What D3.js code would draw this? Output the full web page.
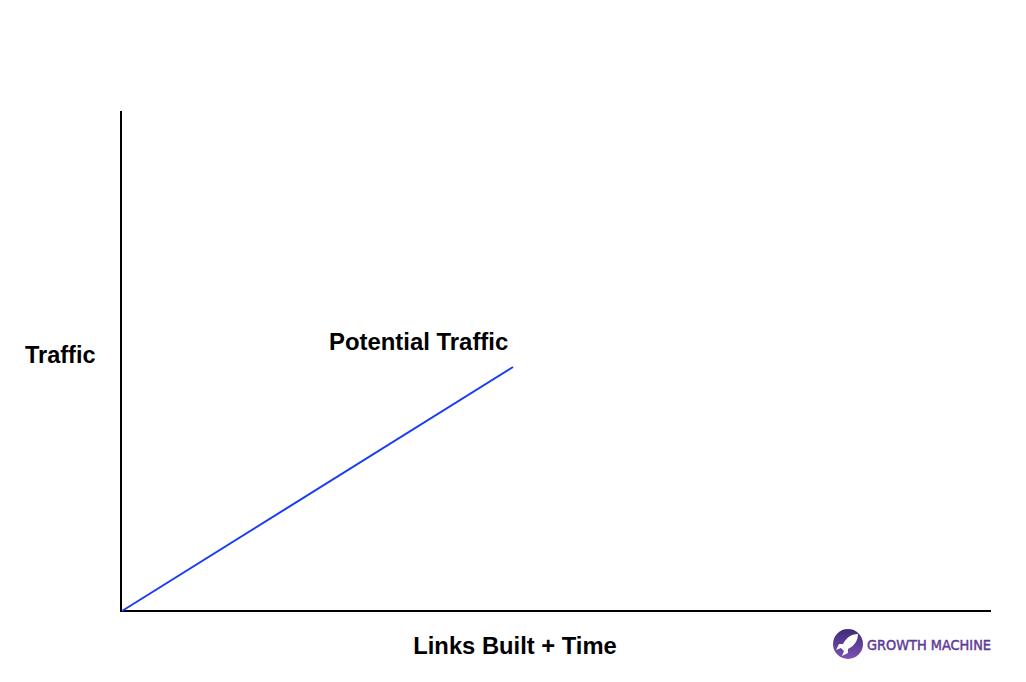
<!DOCTYPE html>
<html><head><meta charset="utf-8">
<script src="https://cdn.jsdelivr.net/npm/d3@7/dist/d3.min.js"></script>
<style>html,body{margin:0;padding:0;background:#fff}svg{display:block}</style>
</head><body><svg id="c" width="1026" height="682"></svg>
<script>
const seriesName = "Potential Traffic";
const xLabel = "Links Built + Time";
const yLabel = "Traffic";
const brand = "GROWTH MACHINE";
// relative units: axis runs 0..100 on each side
const xValues = [0, 45];
const yValues = [0, 48.8];

const svg = d3.select("#c");
const defs = svg.append("defs");
const grad = defs.append("linearGradient").attr("id","g").attr("x1",0).attr("y1",0).attr("x2",0).attr("y2",1);
grad.append("stop").attr("offset","0").attr("stop-color","#3f2a78");
grad.append("stop").attr("offset","1").attr("stop-color","#7d52b4");

const x = d3.scaleLinear().domain([0,100]).range([122,991]);
const y = d3.scaleLinear().domain([0,100]).range([611,111]);

const ax = svg.append("g");
ax.append("line").attr("x1",x(0)-2).attr("x2",x(100)).attr("y1",y(0)).attr("y2",y(0)).attr("stroke","#000").attr("stroke-width",2);
ax.append("line").attr("x1",x(0)-1).attr("x2",x(0)-1).attr("y1",y(100)).attr("y2",y(0)+1).attr("stroke","#000").attr("stroke-width",2);

const line = d3.line().x(d=>x(d[0])).y(d=>y(d[1]));
svg.append("path").datum(xValues.map((v,i)=>[v,yValues[i]])).attr("d",line)
  .attr("fill","none").attr("stroke","#1a3cf5").attr("stroke-width",2);

const font = "'Liberation Sans',Arial,sans-serif";
const label = (t,px,py,anchor,size)=>svg.append("text").text(t).attr("x",px).attr("y",py)
  .attr("text-anchor",anchor).attr("font-family",font).attr("font-weight",700).attr("font-size",size).attr("fill","#000");
label(seriesName,329,350,"start",23.9);
label(yLabel,25,363,"start",23.5);
label(xLabel,515,654,"middle",23.75);

// logo
const logo = svg.append("g");
logo.append("circle").attr("cx",848).attr("cy",644).attr("r",15).attr("fill","url(#g)");
logo.append("path").attr("d","M858 634 C851 634 846 638 843 644 L839 644 L836 650 L841 648 L844 651 L842 656 L848 653 L848 649 C854 646 858 641 858 634 Z").attr("fill","#fff");
svg.append("text").text(brand).attr("x",867).attr("y",649.5).attr("font-family","'DejaVu Sans',sans-serif")
  .attr("font-weight",400).attr("font-size",14).attr("fill","#5f3b98").attr("stroke","#5f3b98").attr("stroke-width",0.5)
  .attr("textLength",124).attr("lengthAdjust","spacingAndGlyphs");
</script></body></html>
